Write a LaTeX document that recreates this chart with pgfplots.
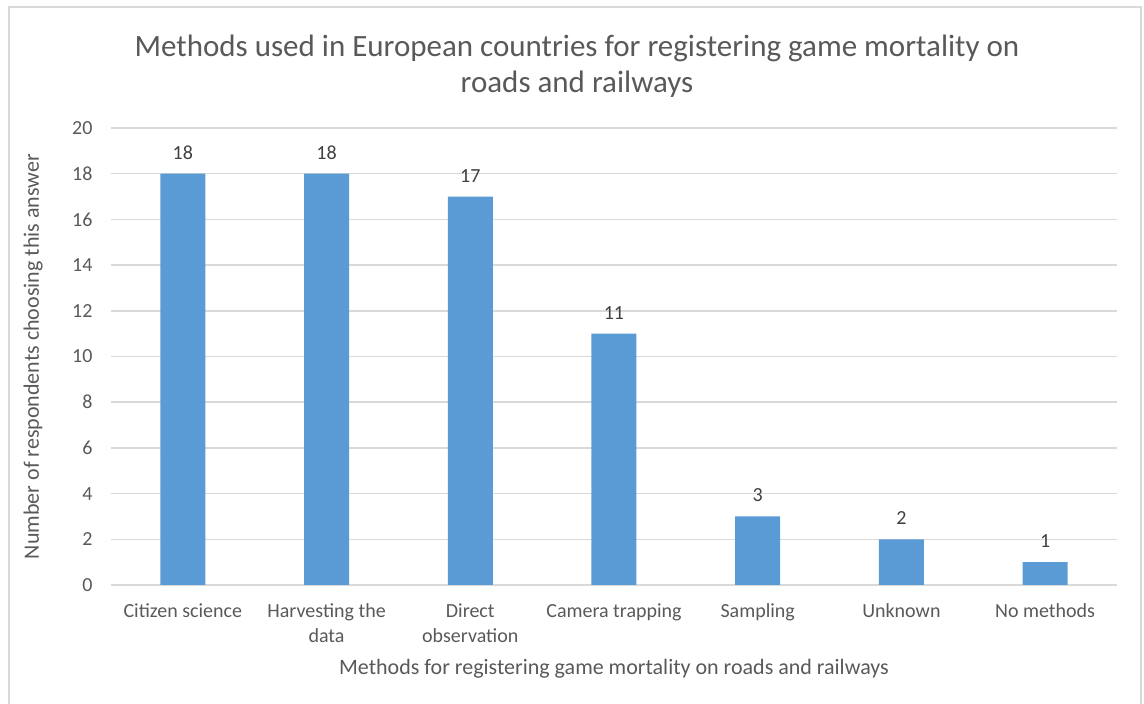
\documentclass[border=0pt]{standalone}
\usepackage{pgfplots}
\pgfplotsset{compat=1.18}
\usepackage{fontspec}
\setmainfont{Carlito}
\definecolor{barblue}{HTML}{5B9BD5}
\definecolor{gridgray}{HTML}{D9D9D9}
\definecolor{txtgray}{HTML}{595959}
\definecolor{lblgray}{HTML}{404040}
\begin{document}
\begin{tikzpicture}[x=1pt,y=1pt]
\useasboundingbox (0,0) rectangle (1144,704);
\draw[gridgray, line width=1.5pt] (9,-5) -- (9,697) -- (1141,697) -- (1141,-5);
\node[text=txtgray, font=\fontsize{31}{36}\selectfont, align=center] at (577,638)
  {Methods used in European countries for registering game mortality on\\roads and railways};
\begin{axis}[
  at={(111pt,119pt)}, anchor=south west,
  width=1006pt, height=457pt, scale only axis,
  xmin=-0.5, xmax=6.5, ymin=0, ymax=20,
  ytick={0,2,...,20},
  xtick={0,1,2,3,4,5,6},
  xticklabels={Citizen science,{Harvesting the\\data},{Direct\\observation},Camera trapping,Sampling,Unknown,No methods},
  axis x line*=bottom, axis y line*=left,
  x axis line style={gridgray, line width=1.5pt},
  y axis line style={draw=none},
  ymajorgrids, grid style={gridgray, line width=1.5pt},
  major tick length=0pt,
  /pgf/number format/assume math mode=true,
  yticklabel style={font=\fontsize{20}{24}\selectfont, text=txtgray, xshift=-15pt},
  xticklabel style={font=\fontsize{20}{25}\selectfont, text=txtgray, align=center, yshift=-15pt},
  ylabel={Number of respondents choosing this answer},
  xlabel={Methods for registering game mortality on roads and railways},
  ylabel style={font=\fontsize{22}{24}\selectfont, text=txtgray, at={(axis description cs:-0.0775,0.5)}, anchor=center},
  xlabel style={font=\fontsize{22}{24}\selectfont, text=txtgray, at={(axis description cs:0.5,-0.1838)}, anchor=center},
  ybar, bar width=45pt,
  nodes near coords,
  nodes near coords style={font=\fontsize{20}{24}\selectfont, text=lblgray, yshift=11pt},
]
\addplot[fill=barblue, draw=none] coordinates {(0,18) (1,18) (2,17) (3,11) (4,3) (5,2) (6,1)};
\end{axis}
\end{tikzpicture}
\end{document}
